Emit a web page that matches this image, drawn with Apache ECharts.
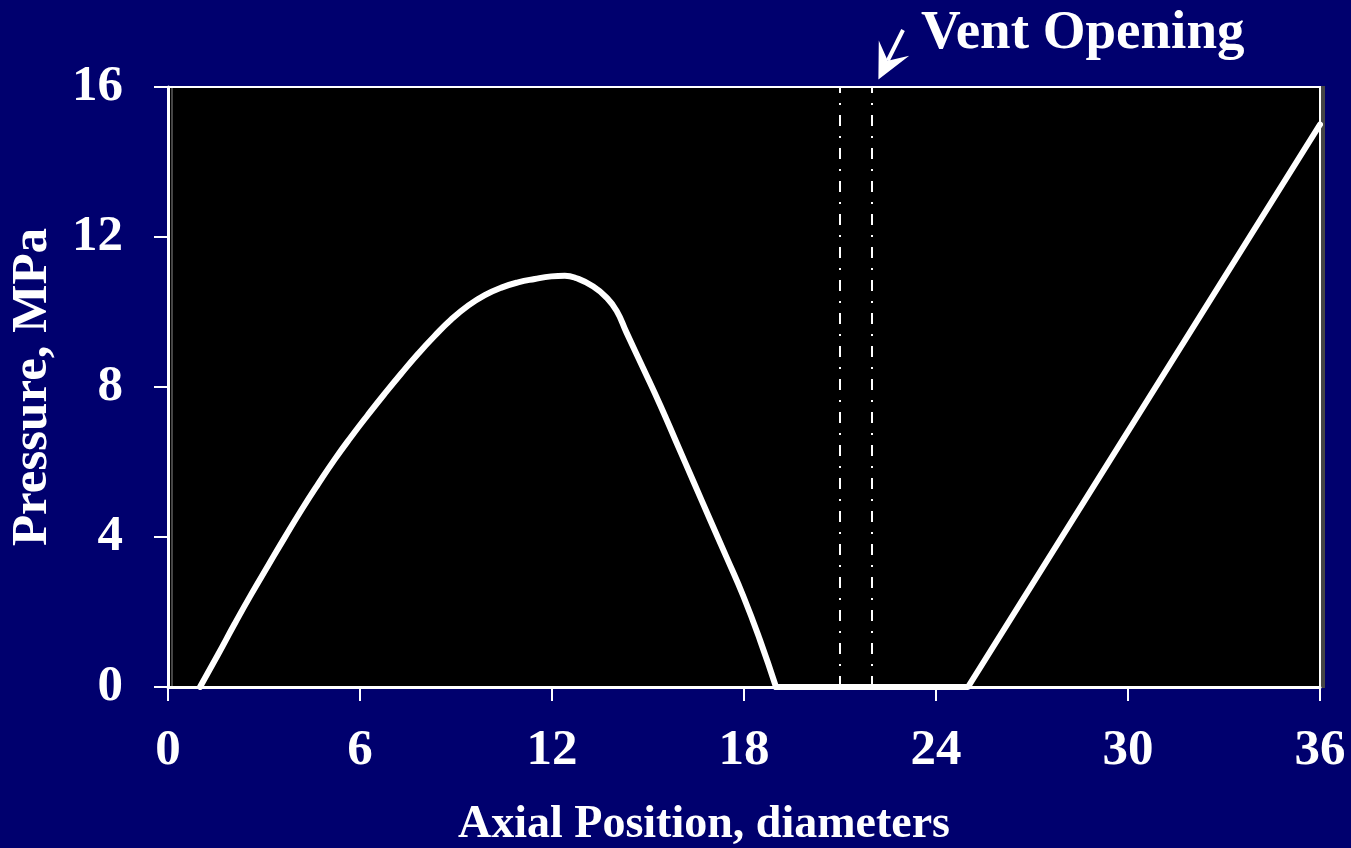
<!DOCTYPE html>
<html>
<head>
<meta charset="utf-8">
<script src="https://cdn.jsdelivr.net/npm/echarts@6/dist/echarts.min.js"></script>
<style>
html,body{margin:0;padding:0;background:#00006e;overflow:hidden;}
#chart{width:1351px;height:848px;}
</style>
</head>
<body>
<div id="chart"></div>
<script>
// Pressure profile (x: diameters, y: MPa)
const curveX = [1, 1.56, 2.08, 2.6, 3.13, 3.65, 4.17, 4.69, 5.21, 5.73, 6.25, 6.77, 7.29, 7.81, 8.33, 8.85, 9.38, 9.9, 10.42, 10.94, 11.46, 11.98,
                12.4, 12.77, 13.29, 13.71, 14.02, 14.33, 14.85, 15.38, 15.9, 16.42, 16.94, 17.46, 17.98, 18.5, 19];
const curveY = [0, 0.86, 1.68, 2.47, 3.24, 3.99, 4.72, 5.41, 6.07, 6.68, 7.26, 7.82, 8.36, 8.88, 9.36, 9.8, 10.17, 10.45, 10.65, 10.79, 10.88, 10.95,
                10.97, 10.9, 10.68, 10.38, 10.03, 9.45, 8.5, 7.52, 6.5, 5.48, 4.46, 3.45, 2.42, 1.25, 0];
const straightX = [19, 25, 36];
const straightY = [0, 0, 15];
const ventLinesX = [21, 22];
const xTicks = [0, 6, 12, 18, 24, 30, 36];
const yTicks = [0, 4, 8, 12, 16];
const arrowTail = [22.97, 17.52];
const arrowTip = [22.2, 16.2];
const xTitle = 'Axial Position, diameters';
const yTitle = 'Pressure, MPa';
const annotation = 'Vent Opening';

const FONT = "'Liberation Serif', 'Times New Roman', serif";
const chart = echarts.init(document.getElementById('chart'));
const zip = (xs, ys) => xs.map((x, i) => [x, ys[i]]);
const lineStyle = { color: '#ffffff', width: 6, cap: 'round', join: 'round' };

chart.setOption({
  backgroundColor: '#00006e',
  animation: false,
  title: { text: annotation, left: 921, top: 6, padding: 0,
    textStyle: { color: '#fff', fontFamily: FONT, fontWeight: 'bold', fontSize: 55 } },
  grid: { left: 168, right: 31, top: 87, height: 600, outerBoundsMode: 'none', containLabel: false,
    show: true, backgroundColor: '#000000', borderColor: '#ffffff', borderWidth: 2,
    shadowColor: 'rgba(70,70,70,1)', shadowOffsetX: 4, shadowOffsetY: 0, shadowBlur: 0 },
  xAxis: { type: 'value', min: xTicks[0], max: xTicks[xTicks.length - 1], interval: 6,
    axisLine: { lineStyle: { color: '#fff', width: 3 } },
    axisTick: { show: true, inside: false, length: 14, lineStyle: { color: '#fff', width: 2 } },
    splitLine: { show: false },
    axisLabel: { color: '#fff', fontFamily: FONT, fontWeight: 'bold', fontSize: 51, margin: 38 },
    name: xTitle, nameLocation: 'middle', nameGap: 115,
    nameTextStyle: { color: '#fff', fontFamily: FONT, fontWeight: 'bold', fontSize: 46, padding: [0, 80, 0, 0] } },
  yAxis: { type: 'value', min: yTicks[0], max: yTicks[yTicks.length - 1], interval: 4,
    axisLine: { lineStyle: { color: '#fff', width: 3 } },
    axisTick: { show: true, inside: false, length: 14, lineStyle: { color: '#fff', width: 2 } },
    splitLine: { show: false },
    axisLabel: { color: '#fff', fontFamily: FONT, fontWeight: 'bold', fontSize: 51, margin: 45 },
    name: yTitle, nameLocation: 'middle', nameGap: 110, nameRotate: 90,
    nameTextStyle: { color: '#fff', fontFamily: FONT, fontWeight: 'bold', fontSize: 51 } },
  series: [
    { type: 'line', data: zip(curveX, curveY), smooth: 0.5, symbol: 'none', lineStyle: lineStyle, z: 3,
      markLine: { silent: true, symbol: ['none', 'none'], label: { show: false },
        lineStyle: { color: '#fff', width: 2, type: [11, 10, 2, 10] },
        data: ventLinesX.map(v => ({ xAxis: v })) } },
    { type: 'line', data: zip(straightX, straightY), smooth: false, symbol: 'none', lineStyle: lineStyle, z: 3 }
  ]
});

// Annotation arrow (stealth head) placed from data coordinates
const p0 = chart.convertToPixel({ gridIndex: 0 }, arrowTail);
const p1 = chart.convertToPixel({ gridIndex: 0 }, arrowTip);
const dx = p1[0] - p0[0], dy = p1[1] - p0[1];
const L = Math.hypot(dx, dy);
const ux = dx / L, uy = dy / L, nx = -uy, ny = ux;
const headLen = 35, headHalf = 17, notch = 21;
const wingL = [p1[0] - ux * headLen + nx * headHalf, p1[1] - uy * headLen + ny * headHalf];
const wingR = [p1[0] - ux * headLen - nx * headHalf, p1[1] - uy * headLen - ny * headHalf];
const notchPt = [p1[0] - ux * notch, p1[1] - uy * notch];
chart.setOption({ graphic: [
  { type: 'line', shape: { x1: p0[0], y1: p0[1], x2: notchPt[0], y2: notchPt[1] }, style: { stroke: '#fff', lineWidth: 4 }, z: 10 },
  { type: 'polygon', shape: { points: [p1, wingL, notchPt, wingR] }, style: { fill: '#fff' }, z: 10 }
]});
</script>
</body>
</html>
